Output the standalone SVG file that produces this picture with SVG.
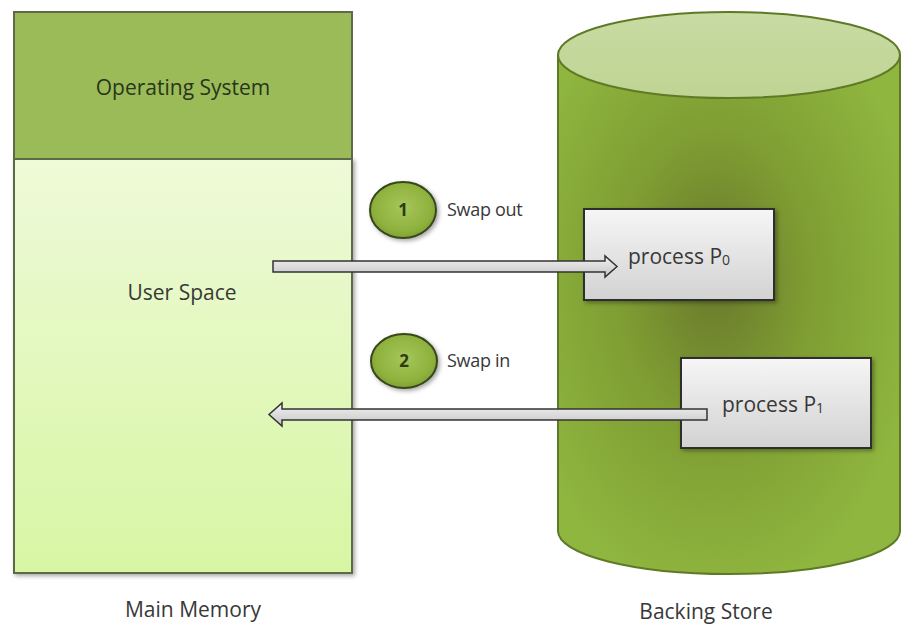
<svg xmlns="http://www.w3.org/2000/svg" width="901" height="624" viewBox="0 0 901 624">
  <style>
    .lbl { font-family: "Open Sans", "Noto Sans", sans-serif; fill: #383838; }
    .big { font-size: 21px; }
    .swap { font-size: 18px; letter-spacing: -0.3px; }
    .num { font-family: "Open Sans", "Noto Sans", sans-serif; font-size: 17px; font-weight: bold; fill: #2e3b14; }
    .box { fill: url(#boxGrad); stroke: #2f2f2f; stroke-width: 2; filter: url(#shadow); }
    .arrow { fill: url(#arrowGrad); stroke: #333333; stroke-width: 1.5; stroke-linejoin: miter; }
    .step { fill: url(#stepGrad); stroke: #38461c; stroke-width: 2; filter: url(#shadow); }
  </style>
  <defs>
    <filter id="shadow" x="-10%" y="-10%" width="130%" height="130%">
      <feDropShadow dx="2" dy="2" stdDeviation="2" flood-color="#000" flood-opacity="0.35"/>
    </filter>
    <linearGradient id="userGrad" x1="0" y1="0" x2="0" y2="1">
      <stop offset="0" stop-color="#eefad8"/>
      <stop offset="1" stop-color="#d7f6a3"/>
    </linearGradient>
    <linearGradient id="boxGrad" x1="0" y1="0" x2="0" y2="1">
      <stop offset="0" stop-color="#f6f6f6"/>
      <stop offset="1" stop-color="#d2d2d2"/>
    </linearGradient>
    <linearGradient id="arrowGrad" x1="0" y1="0" x2="0" y2="1">
      <stop offset="0" stop-color="#f2f2f2"/>
      <stop offset="1" stop-color="#c6c6c6"/>
    </linearGradient>
    <radialGradient id="stepGrad" cx="0.5" cy="0.45" r="0.6">
      <stop offset="0" stop-color="#a6c65a"/>
      <stop offset="0.7" stop-color="#8fb23e"/>
      <stop offset="1" stop-color="#7a9a2e"/>
    </radialGradient>
    <radialGradient id="cylGrad" cx="0.46" cy="0.45" r="0.6" fx="0.46" fy="0.42">
      <stop offset="0" stop-color="#68782c"/>
      <stop offset="0.45" stop-color="#7e9c32"/>
      <stop offset="1" stop-color="#8fb63f"/>
    </radialGradient>
    <linearGradient id="topGrad" x1="0" y1="0" x2="0" y2="1">
      <stop offset="0" stop-color="#c8dba3"/>
      <stop offset="1" stop-color="#bfd493"/>
    </linearGradient>
  </defs>

  <rect width="901" height="624" fill="#ffffff"/>

  <g id="main-memory">
    <rect x="14" y="159" width="338" height="414" fill="url(#userGrad)" stroke="#5c6a48" stroke-width="2" filter="url(#shadow)"/>
    <rect x="14" y="12" width="338" height="147" fill="#9bbb59" stroke="#5c6a48" stroke-width="2"/>
    <text class="lbl big" x="183" y="95" text-anchor="middle" style="fill:#28361a">Operating System</text>
    <text class="lbl big" x="182" y="300" text-anchor="middle">User Space</text>
    <text class="lbl big" x="193" y="617" text-anchor="middle">Main Memory</text>
  </g>

  <g id="backing-store">
    <path d="M558,55 L558,531 A171,43 0 0 0 900,531 L900,55 Z" fill="url(#cylGrad)" stroke="#5e7a26" stroke-width="2"/>
    <ellipse cx="729" cy="55" rx="171" ry="43" fill="url(#topGrad)" stroke="#5e7a26" stroke-width="2"/>
    <text class="lbl big" x="706" y="619" text-anchor="middle">Backing Store</text>
  </g>

  <g id="process-p0">
    <rect class="box" x="584" y="209" width="190" height="91"/>
    <text class="lbl big" x="628" y="264">process P<tspan font-size="14" dy="1">0</tspan></text>
  </g>

  <g id="process-p1">
    <rect class="box" x="681" y="358" width="190" height="90"/>
    <text class="lbl big" x="722" y="412">process P<tspan font-size="14" dy="1">1</tspan></text>
  </g>

  <g id="step-1">
    <ellipse class="step" cx="403" cy="210" rx="33" ry="28"/>
    <text class="num" x="403" y="216" text-anchor="middle">1</text>
    <text class="lbl swap" x="447" y="216">Swap out</text>
  </g>

  <g id="step-2">
    <ellipse class="step" cx="404" cy="361" rx="33" ry="27"/>
    <text class="num" x="404" y="367" text-anchor="middle">2</text>
    <text class="lbl swap" x="447" y="367">Swap in</text>
  </g>

  <g id="connectors">
    <polygon class="arrow" points="273,261 605,261 605,256 617,266.5 605,277 605,272 273,272"/>
    <polygon class="arrow" points="707,409 282,409 282,403 269,414.5 282,426 282,420 707,420"/>
  </g>
</svg>
